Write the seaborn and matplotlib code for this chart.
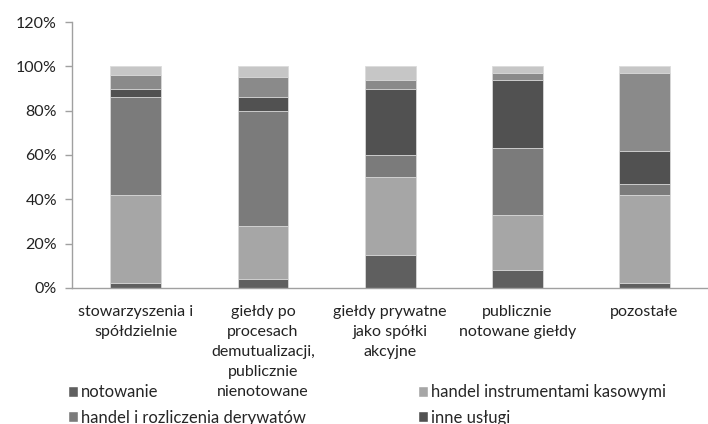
import numpy as np
import pandas as pd
import matplotlib.pyplot as plt
import seaborn as sns
from matplotlib.patches import Patch

# Data
categories = ["stowarzyszenia i\nspółdzielnie",
              "giełdy po\nprocesach\ndemutualizacji,\npublicznie\nnienotowane",
              "giełdy prywatne\njako spółki\nakcyjne",
              "publicznie\nnotowane giełdy",
              "pozostałe"]

notowanie = [2, 4, 15, 8, 2]
handel_kasowe = [40, 24, 35, 25, 40]
derywaty = [44, 52, 10, 30, 5]
inne_uslugi = [4, 6, 30, 31, 15]
seria_5 = [6, 9, 4, 3, 35]
seria_6 = [4, 5, 6, 3, 3]

series_names = ["notowanie", "handel instrumentami kasowymi",
                "handel i rozliczenia derywatów", "inne usługi",
                "seria 5", "seria 6"]
colors = ["#5f5f5f", "#a6a6a6", "#7b7b7b", "#515151", "#8a8a8a", "#c6c6c6"]

df = pd.DataFrame(
    [notowanie, handel_kasowe, derywaty, inne_uslugi, seria_5, seria_6],
    index=series_names, columns=categories).T
cum = df.cumsum(axis=1)

sns.set_style("white")
plt.rcParams['font.family'] = ['Lato', 'DejaVu Sans']

fig = plt.figure(figsize=(7.08, 4.24), dpi=100)
ax = fig.add_axes([0.102, 0.321, 0.898, 0.627])

# draw from the top so lower segments cover upper totals
for name, col in reversed(list(zip(series_names, colors))):
    sns.barplot(x=cum.index, y=cum[name].values, color=col, width=0.4,
                edgecolor="#dcdcdc", linewidth=0.6, ax=ax, saturation=1)

ax.set_ylim(0, 120)
ax.set_xlim(-0.5, len(categories) - 0.5)
ax.set_yticks(range(0, 121, 20))
ax.set_yticklabels([f"{v}%" for v in range(0, 121, 20)], fontsize=11.5, color="#222222")
ax.set_xticklabels(categories, fontsize=11.5, color="#222222", linespacing=1.55, va="top")
ax.set_xticks(np.arange(len(categories) + 1) - 0.5, minor=True)
ax.tick_params(axis="x", which="major", length=0, pad=12)
ax.tick_params(axis="x", which="minor", length=5, color="#a0a0a0", width=1)
ax.tick_params(axis="y", length=5, color="#a0a0a0", width=1, left=True, pad=6)
ax.set_xlabel("")
ax.set_ylabel("")

for s in ["top", "right"]:
    ax.spines[s].set_visible(False)
for s in ["left", "bottom"]:
    ax.spines[s].set_color("#a0a0a0")
    ax.spines[s].set_linewidth(1)

# legend (only four entries visible)
order = [0, 2, 1, 3]
handles = [Patch(facecolor=colors[i], label=series_names[i]) for i in order]
fig.legend(handles=handles, loc="upper left", bbox_to_anchor=(0.096, 0.094),
           ncol=2, frameon=False, fontsize=12, handlelength=0.6,
           handleheight=0.6, handletextpad=0.2, columnspacing=6.7,
           labelspacing=0.57, borderaxespad=0, borderpad=0)

fig.savefig("out.png", dpi=100)
